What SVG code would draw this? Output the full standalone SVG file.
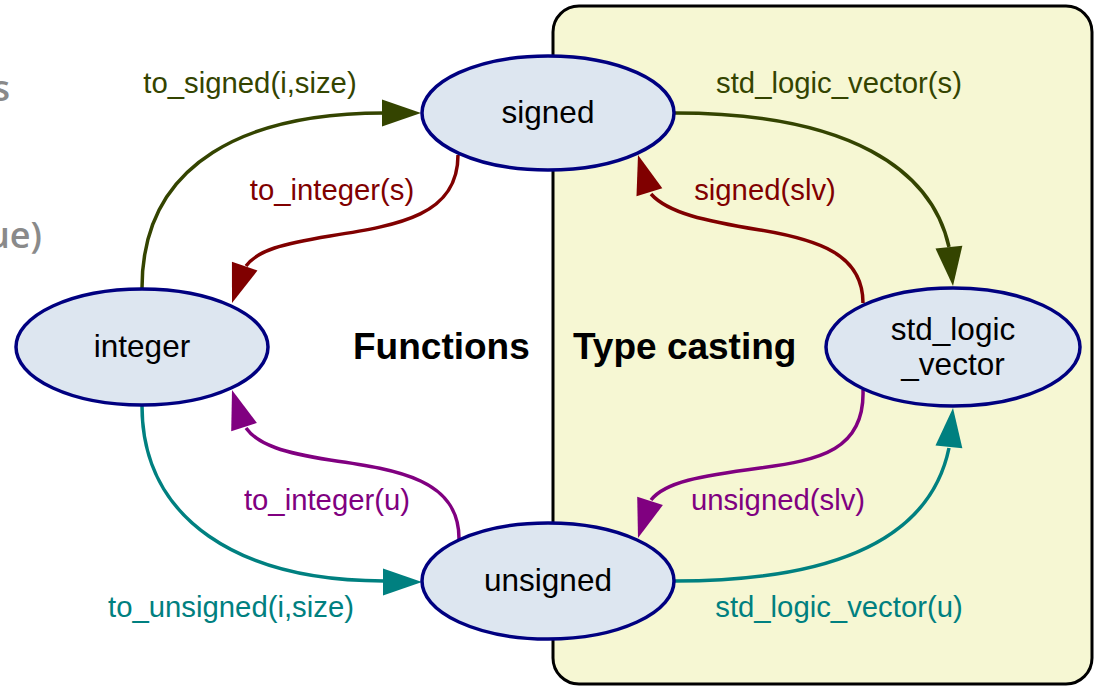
<svg xmlns="http://www.w3.org/2000/svg" xmlns:xlink="http://www.w3.org/1999/xlink" width="1094" height="686" viewBox="0 0 1094 686">
<style>
.node ellipse{fill:#dde6f0;stroke:#000080;stroke-width:3.5}
.nl{font-family:"Liberation Sans",Arial,sans-serif;font-size:31.5px;fill:#000;text-anchor:middle}
.el{font-family:"Liberation Sans",Arial,sans-serif;font-size:29.3px;text-anchor:middle}
.title{font-family:"Liberation Sans",Arial,sans-serif;font-size:37px;font-weight:bold;fill:#000}
.e{fill:none;stroke-width:3.5}
.olive{stroke:#344400}
.maroon{stroke:#800000}
.purple{stroke:#800080}
.teal{stroke:#008080}
.tolive{fill:#344400}.tmaroon{fill:#800000}.tpurple{fill:#800080}.tteal{fill:#008080}
.ah{stroke:none}
.grey{font-family:"Open Sans","Liberation Sans",sans-serif;font-size:36px;font-weight:600;fill:#8a8a8a;text-anchor:end}
</style>
<defs>
<path id="arrow" d="M0,0 L-39,-13.5 L-39,13.5 Z"/>
</defs>
<rect width="1094" height="686" fill="#ffffff"/>
<g id="cluster">
<rect x="553" y="6" width="539" height="678" rx="26" fill="#f6f7d3" stroke="#000" stroke-width="3"/>
<text class="title" x="573" y="359">Type casting</text>
</g>
<text class="title" x="353" y="359">Functions</text>
<text class="grey" x="10" y="101">s</text>
<text class="grey" x="42" y="248">ue)</text>
<g id="connectors">
<path class="e olive" d="M142,288 C142,160 250,113 384,113"/>
<use xlink:href="#arrow" class="ah tolive" transform="translate(421,113)"/>
<path class="e olive" d="M675,113 C850,113 932,170 949,247"/>
<use xlink:href="#arrow" class="ah tolive" transform="translate(953,286) rotate(84)"/>
<path class="e maroon" d="M458,155 C458,215 400,225 330,236 C282,244 258,250 246,266"/>
<use xlink:href="#arrow" class="ah tmaroon" transform="translate(232,303) rotate(109)"/>
<path class="e maroon" d="M863,303 C863,255 820,240 760,230 C705,221 668,213 651,194"/>
<use xlink:href="#arrow" class="ah tmaroon" transform="translate(638,155) rotate(-107)"/>
<path class="e purple" d="M459,540 C460,480 400,470 330,460 C285,453 258,445 246,428"/>
<use xlink:href="#arrow" class="ah tpurple" transform="translate(232,390) rotate(-108)"/>
<path class="e purple" d="M863,390 C865,450 820,460 760,468 C700,476 665,482 651,500"/>
<use xlink:href="#arrow" class="ah tpurple" transform="translate(638,538) rotate(108)"/>
<path class="e teal" d="M142,406 C142,520 240,581 384,581"/>
<use xlink:href="#arrow" class="ah tteal" transform="translate(422,582)"/>
<path class="e teal" d="M675,581 C850,581 932,530 949,448"/>
<use xlink:href="#arrow" class="ah tteal" transform="translate(953,408) rotate(-84)"/>
<text class="el tolive" x="250" y="93">to_signed(i,size)</text>
<text class="el tolive" x="839" y="93">std_logic_vector(s)</text>
<text class="el tmaroon" x="332" y="200">to_integer(s)</text>
<text class="el tmaroon" x="765" y="200">signed(slv)</text>
<text class="el tpurple" x="327" y="510">to_integer(u)</text>
<text class="el tpurple" x="778" y="510">unsigned(slv)</text>
<text class="el tteal" x="231" y="617">to_unsigned(i,size)</text>
<text class="el tteal" x="839" y="617">std_logic_vector(u)</text>
</g>
<g id="node-signed" class="node">
<ellipse cx="548" cy="113" rx="126" ry="57"/>
<text class="nl" x="548" y="123">signed</text>
</g>
<g id="node-integer" class="node">
<ellipse cx="142" cy="347" rx="126" ry="58"/>
<text class="nl" x="142" y="357">integer</text>
</g>
<g id="node-slv" class="node">
<ellipse cx="953" cy="347" rx="127" ry="59"/>
<text class="nl" x="953" y="340">std_logic</text>
<text class="nl" x="953" y="375">_vector</text>
</g>
<g id="node-unsigned" class="node">
<ellipse cx="548" cy="581" rx="126" ry="58"/>
<text class="nl" x="548" y="591">unsigned</text>
</g>
</svg>
